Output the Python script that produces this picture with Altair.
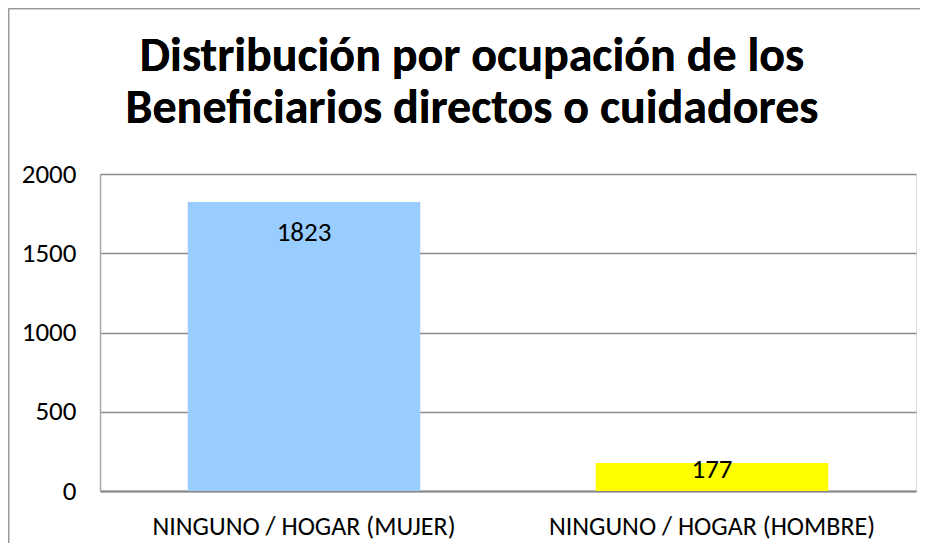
import altair as alt
import pandas as pd

categories = ["NINGUNO / HOGAR (MUJER)", "NINGUNO / HOGAR (HOMBRE)"]
values = [1823, 177]
colors = ["#99CCFF", "#FFFF00"]
y_ticks = [0, 500, 1000, 1500, 2000]
title_lines = ["Distribución por ocupación de los", "Beneficiarios directos o cuidadores"]

df = pd.DataFrame({"cat": categories, "value": values, "color": colors})

FONT = "Carlito, Lato, sans-serif"
W, H = 816, 317

x_enc = alt.X("cat:N", sort=categories,
              scale=alt.Scale(paddingInner=0.43, paddingOuter=0.215),
              axis=alt.Axis(title=None, labelAngle=0, labelFontSize=26, labelFont=FONT,
                            labelColor="#000000", labelPadding=22, ticks=False, labelLimit=0,
                            domainColor="#888888", domainWidth=2))
y_enc = alt.Y("value:Q", scale=alt.Scale(domain=[0, 2000]),
              axis=alt.Axis(title=None, values=y_ticks, format="d", labelFontSize=27, labelFont=FONT,
                            labelColor="#000000", labelPadding=24, ticks=False,
                            grid=True, gridColor="#8c8c8c", gridWidth=1.5,
                            domainColor="#aaaaaa", domainWidth=1.5))

bars = alt.Chart(df).mark_bar().encode(
    x=x_enc, y=y_enc,
    color=alt.Color("color:N", scale=None),
)

labels_big = alt.Chart(df).transform_filter("datum.value >= 500").mark_text(
    baseline="middle", dy=31, fontSize=27, font=FONT, color="#000000"
).encode(x=alt.X("cat:N", sort=categories), y="value:Q", text="value:Q")

labels_small = alt.Chart(df).transform_filter("datum.value < 500").mark_text(
    baseline="middle", dy=7, fontSize=27, font=FONT, color="#000000"
).encode(x=alt.X("cat:N", sort=categories), y="value:Q", text="value:Q")

title = alt.Chart(df).mark_text(
    text=title_lines, fontSize=48, font=FONT, fontWeight="bold", color="#000000",
    align="center", baseline="alphabetic", lineHeight=52
).encode(x=alt.value(372), y=alt.value(-103))

border_top = alt.Chart(df).mark_rule(color="#999999", strokeWidth=1.5).encode(
    x=alt.value(-91.5), x2=alt.value(W + 4), y=alt.value(-165.5), y2=alt.value(-165.5)
)
border_left = alt.Chart(df).mark_rule(color="#999999", strokeWidth=1.5).encode(
    x=alt.value(-91.5), x2=alt.value(-91.5), y=alt.value(-165.5), y2=alt.value(H + 52)
)

chart = alt.layer(bars, labels_big, labels_small, title, border_top, border_left).properties(
    width=W, height=H,
    autosize=alt.AutoSizeParams(type="none"),
    padding={"left": 92, "top": 166, "right": 4, "bottom": 52},
).configure_view(stroke="transparent", strokeWidth=0).configure(background="#ffffff")

chart.save("out.html", embed_options={"renderer": "svg", "actions": False})
